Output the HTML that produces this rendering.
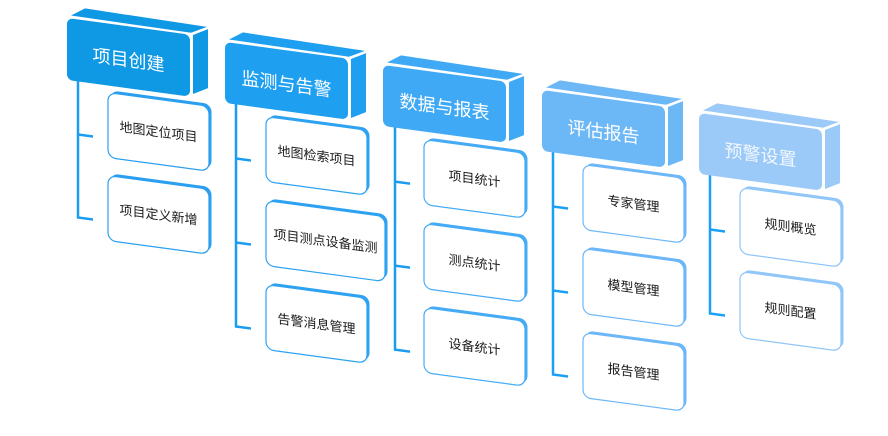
<!DOCTYPE html>
<html><head><meta charset="utf-8"><style>
html,body{margin:0;padding:0;background:#fff;width:888px;height:436px;overflow:hidden}
svg{display:block}
text{font-family:"Liberation Sans","Noto Sans CJK SC",sans-serif}
.h{font-size:18px;fill:#fff;text-anchor:middle}
.c{font-size:13px;fill:#1b1b1b;text-anchor:middle}
</style></head><body>
<svg width="888" height="436" viewBox="0 0 888 436" xmlns="http://www.w3.org/2000/svg">
<rect width="888" height="436" fill="#fff"/>

<!-- Column 1 -->
<g transform="translate(67,18) skewY(7.7)">
  <line x1="11" y1="60" x2="11" y2="199" stroke="#1a9cf0" stroke-width="2.5"/>
  <line x1="10" y1="115" x2="26" y2="115" stroke="#1a9cf0" stroke-width="2.5"/>
  <line x1="10" y1="198" x2="26" y2="198" stroke="#1a9cf0" stroke-width="2.5"/>
  <polygon points="4,-3 18,-12 140,-10 124,-2" fill="#0f98e4"/>
  <polygon points="126,0 141,-8 141,51 126,59" fill="#0f98e4"/>
  <rect x="0" y="0" width="123" height="62" rx="6" fill="#0f98e4"/>
  <text class="h" x="61.5" y="40">项目创建</text>
  <rect x="43.5" y="66.5" width="101" height="65" rx="8" fill="#2a9ff0"/>
  <rect x="41" y="69" width="101" height="65" rx="8" fill="#fff" stroke="#2a9ff0" stroke-width="1.2"/>
  <text class="c" x="91.5" y="106">地图定位项目</text>
  <rect x="43.5" y="149.5" width="101" height="65" rx="8" fill="#2a9ff0"/>
  <rect x="41" y="152" width="101" height="65" rx="8" fill="#fff" stroke="#2a9ff0" stroke-width="1.2"/>
  <text class="c" x="91.5" y="189">项目定义新增</text>
</g>

<!-- Column 2 -->
<g transform="translate(225,42) skewY(7.7)">
  <line x1="11" y1="60" x2="11" y2="284" stroke="#1a9cf0" stroke-width="2.5"/>
  <line x1="10" y1="115" x2="26" y2="115" stroke="#1a9cf0" stroke-width="2.5"/>
  <line x1="10" y1="199" x2="26" y2="199" stroke="#1a9cf0" stroke-width="2.5"/>
  <line x1="10" y1="283" x2="26" y2="283" stroke="#1a9cf0" stroke-width="2.5"/>
  <polygon points="4,-3 18,-12 140,-10 124,-2" fill="#1f9ff0"/>
  <polygon points="126,0 141,-8 141,51 126,59" fill="#1f9ff0"/>
  <rect x="0" y="0" width="123" height="61" rx="6" fill="#1f9ff0"/>
  <text class="h" x="61.5" y="40">监测与告警</text>
  <rect x="43.5" y="66.5" width="101" height="65" rx="8" fill="#2ea2f2"/>
  <rect x="41" y="69" width="101" height="65" rx="8" fill="#fff" stroke="#2ea2f2" stroke-width="1.2"/>
  <text class="c" x="91.5" y="106">地图检索项目</text>
  <rect x="43.5" y="150.5" width="119" height="65" rx="8" fill="#2ea2f2"/>
  <rect x="41" y="153" width="119" height="65" rx="8" fill="#fff" stroke="#2ea2f2" stroke-width="1.2"/>
  <text class="c" x="100.5" y="190">项目测点设备监测</text>
  <rect x="43.5" y="234.5" width="101" height="65" rx="8" fill="#2ea2f2"/>
  <rect x="41" y="237" width="101" height="65" rx="8" fill="#fff" stroke="#2ea2f2" stroke-width="1.2"/>
  <text class="c" x="91.5" y="274">告警消息管理</text>
</g>

<!-- Column 3 -->
<g transform="translate(383,65) skewY(7.7)">
  <line x1="12" y1="60" x2="12" y2="284" stroke="#1a9cf0" stroke-width="2.5"/>
  <line x1="11" y1="115" x2="27" y2="115" stroke="#1a9cf0" stroke-width="2.5"/>
  <line x1="11" y1="199" x2="27" y2="199" stroke="#1a9cf0" stroke-width="2.5"/>
  <line x1="11" y1="283" x2="27" y2="283" stroke="#1a9cf0" stroke-width="2.5"/>
  <polygon points="4,-3 18,-12 140,-10 124,-2" fill="#40a9f5"/>
  <polygon points="126,0 141,-8 141,51 126,59" fill="#40a9f5"/>
  <rect x="0" y="0" width="123" height="61" rx="6" fill="#40a9f5"/>
  <text class="h" x="61.5" y="40">数据与报表</text>
  <rect x="43.5" y="66.5" width="101" height="65" rx="8" fill="#45abf5"/>
  <rect x="41" y="69" width="101" height="65" rx="8" fill="#fff" stroke="#45abf5" stroke-width="1.2"/>
  <text class="c" x="91.5" y="106">项目统计</text>
  <rect x="43.5" y="150.5" width="101" height="65" rx="8" fill="#45abf5"/>
  <rect x="41" y="153" width="101" height="65" rx="8" fill="#fff" stroke="#45abf5" stroke-width="1.2"/>
  <text class="c" x="91.5" y="190">测点统计</text>
  <rect x="43.5" y="234.5" width="101" height="65" rx="8" fill="#45abf5"/>
  <rect x="41" y="237" width="101" height="65" rx="8" fill="#fff" stroke="#45abf5" stroke-width="1.2"/>
  <text class="c" x="91.5" y="274">设备统计</text>
</g>

<!-- Column 4 -->
<g transform="translate(542,90) skewY(7.7)">
  <line x1="11" y1="60" x2="11" y2="284" stroke="#1aa0f8" stroke-width="2.5"/>
  <line x1="10" y1="115" x2="26" y2="115" stroke="#1aa0f8" stroke-width="2.5"/>
  <line x1="10" y1="199" x2="26" y2="199" stroke="#1aa0f8" stroke-width="2.5"/>
  <line x1="10" y1="283" x2="26" y2="283" stroke="#1aa0f8" stroke-width="2.5"/>
  <polygon points="4,-3 18,-12 140,-10 124,-2" fill="#6cb8f7"/>
  <polygon points="126,0 141,-8 141,51 126,59" fill="#6cb8f7"/>
  <rect x="0" y="0" width="123" height="61" rx="6" fill="#6cb8f7"/>
  <text class="h" x="61.5" y="40">评估报告</text>
  <rect x="43.5" y="66.5" width="101" height="65" rx="8" fill="#6cb7f7"/>
  <rect x="41" y="69" width="101" height="65" rx="8" fill="#fff" stroke="#6cb7f7" stroke-width="1.2"/>
  <text class="c" x="91.5" y="106">专家管理</text>
  <rect x="43.5" y="150.5" width="101" height="65" rx="8" fill="#6cb7f7"/>
  <rect x="41" y="153" width="101" height="65" rx="8" fill="#fff" stroke="#6cb7f7" stroke-width="1.2"/>
  <text class="c" x="91.5" y="190">模型管理</text>
  <rect x="43.5" y="234.5" width="101" height="65" rx="8" fill="#6cb7f7"/>
  <rect x="41" y="237" width="101" height="65" rx="8" fill="#fff" stroke="#6cb7f7" stroke-width="1.2"/>
  <text class="c" x="91.5" y="274">报告管理</text>
</g>

<!-- Column 5 -->
<g transform="translate(699,113) skewY(7.7)">
  <line x1="11" y1="60" x2="11" y2="200" stroke="#1aa0f8" stroke-width="2.5"/>
  <line x1="10" y1="115" x2="26" y2="115" stroke="#1aa0f8" stroke-width="2.5"/>
  <line x1="10" y1="199" x2="26" y2="199" stroke="#1aa0f8" stroke-width="2.5"/>
  <polygon points="4,-3 18,-12 140,-10 124,-2" fill="#9ccaf8"/>
  <polygon points="126,0 141,-8 141,51 126,59" fill="#9ccaf8"/>
  <rect x="0" y="0" width="123" height="61" rx="6" fill="#9ccaf8"/>
  <text class="h" x="61.5" y="40" fill-opacity="0.85">预警设置</text>
  <rect x="43.5" y="66.5" width="101" height="66" rx="8" fill="#90c6f8"/>
  <rect x="41" y="69" width="101" height="66" rx="8" fill="#fff" stroke="#90c6f8" stroke-width="1.2"/>
  <text class="c" x="91.5" y="106">规则概览</text>
  <rect x="43.5" y="150.5" width="101" height="66" rx="8" fill="#90c6f8"/>
  <rect x="41" y="153" width="101" height="66" rx="8" fill="#fff" stroke="#90c6f8" stroke-width="1.2"/>
  <text class="c" x="91.5" y="190">规则配置</text>
</g>
</svg>
</body></html>
